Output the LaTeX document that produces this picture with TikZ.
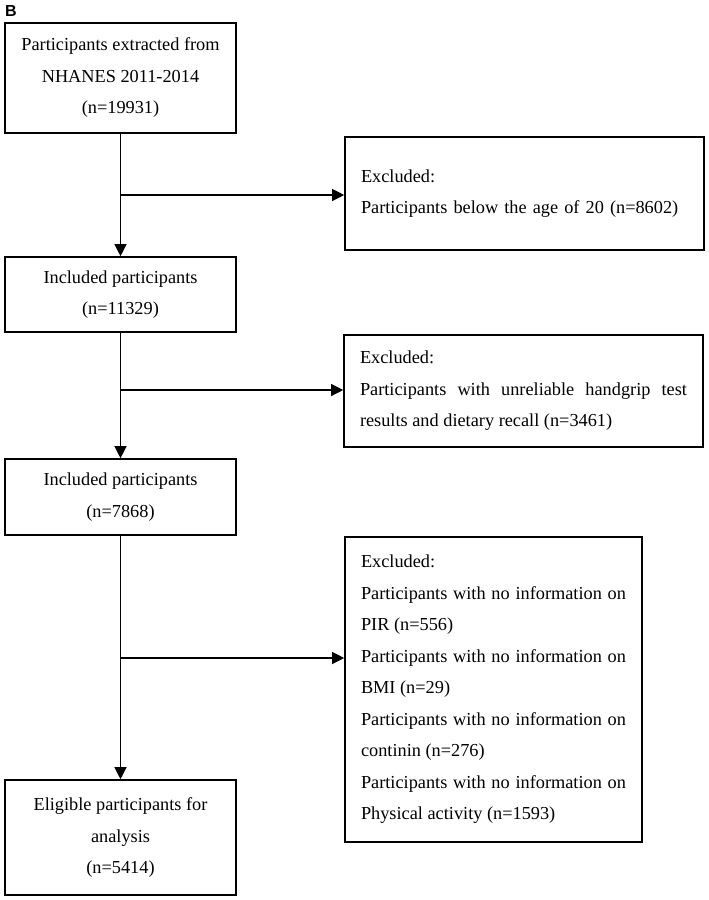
\documentclass[tikz,border=0pt]{standalone}
\usepackage{fontspec}
\setmainfont{Liberation Serif}
\newfontfamily\panelfont{Liberation Sans}
\usetikzlibrary{arrows.meta}

\begin{document}
\begin{tikzpicture}[
    x=1pt, y=-1pt,
    box/.style={rectangle, draw, line width=1.6pt, minimum width=231pt, align=center, font=\fontsize{18.3}{31.5}\selectfont},
    exbox/.style={rectangle, draw, line width=1.6pt, inner xsep=16pt, text width=327pt, align=justify, font=\fontsize{18.3}{31.5}\selectfont},
    arrow/.style={-{Triangle[length=12pt, width=12pt]}, line width=1.2pt},
    panel/.style={font=\panelfont\bfseries\fontsize{16}{18}\selectfont, inner sep=0pt}
]

\useasboundingbox (0,0) rectangle (709,900);

% Panel letter
\node[panel, anchor=base west] (letter) at (5,16.5) {B};

%==============================================================================
% Main flow (left column)
%==============================================================================
\node[box, minimum height=110pt] (start) at (120.5, 78) {Participants extracted from\\NHANES 2011-2014\\(n=19931)};
\node[box, minimum height=75pt] (incl1) at (120.5, 294.5) {Included participants\\(n=11329)};
\node[box, minimum height=76pt] (incl2) at (120.5, 497) {Included participants\\(n=7868)};
\node[box, minimum height=115pt] (final) at (120.5, 837.5) {Eligible participants for\\analysis\\(n=5414)};

\draw[arrow] (start.south) -- (incl1.north);
\draw[arrow] (incl1.south) -- (incl2.north);
\draw[arrow] (incl2.south) -- (final.north);

%==============================================================================
% Exclusions (right column)
%==============================================================================
\node[exbox, minimum height=113pt, align=left] (ex1) at (524.5, 193.5) {Excluded:\\Participants below the age of 20 (n=8602)};
\node[exbox, minimum height=112pt] (ex2) at (523.5, 391) {Excluded:\\Participants with unreliable handgrip test\linebreak results and dietary recall (n=3461)};
\node[exbox, text width=265pt, minimum height=305pt] (ex3) at (493.5, 689.5) {Excluded:\\
    Participants with no information on\linebreak PIR (n=556)\\
    Participants with no information on\linebreak BMI (n=29)\\
    Participants with no information on\linebreak continin (n=276)\\
    Participants with no information on\linebreak Physical activity (n=1593)};

% Branch arrows
\coordinate (br1) at (120.5, 195);
\coordinate (br2) at (120.5, 390);
\coordinate (br3) at (120.5, 658);
\draw[arrow] (br1) -- (br1 -| ex1.west);
\draw[arrow] (br2) -- (br2 -| ex2.west);
\draw[arrow] (br3) -- (br3 -| ex3.west);

\end{tikzpicture}
\end{document}
